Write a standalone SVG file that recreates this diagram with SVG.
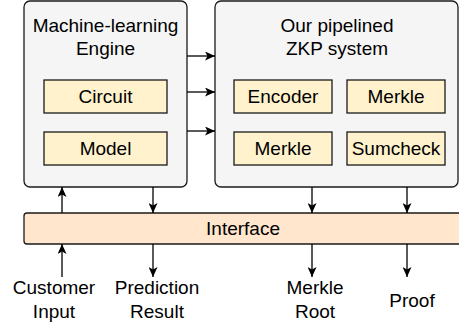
<svg xmlns="http://www.w3.org/2000/svg" width="459" height="327" viewBox="0 0 459 327">
<style>
text{font-family:"Liberation Sans",Arial,Helvetica,sans-serif;font-size:19px;fill:#000;text-anchor:middle}
.outer{fill:#f5f5f5;stroke:#1a1a1a;stroke-width:1.3}
.inner{fill:#fff2cc;stroke:#1a1a1a;stroke-width:1.3}
.iface{fill:#ffe6cc;stroke:#1a1a1a;stroke-width:1.3}
.c{stroke:#000;stroke-width:1.3;fill:none;marker-end:url(#ah)}
</style>
<defs>
<marker id="ah" viewBox="0 0 10 9" refX="10" refY="4.5" markerWidth="10" markerHeight="9" markerUnits="userSpaceOnUse" orient="auto">
<path d="M0,0 L10,4.5 L0,9 L2.5,4.5 Z" fill="#000"/>
</marker>
</defs>
<g id="ml-engine">
<rect class="outer" x="24" y="1" width="163" height="186" rx="6"/>
<text x="105.5" y="32">Machine-learning</text>
<text x="105.5" y="55">Engine</text>
</g>
<g id="circuit">
<rect class="inner" x="44" y="80" width="123" height="33"/>
<text x="105.5" y="103">Circuit</text>
</g>
<g id="model">
<rect class="inner" x="44" y="132" width="123" height="33"/>
<text x="105.5" y="155">Model</text>
</g>
<g id="zkp">
<rect class="outer" x="215" y="1" width="243" height="186" rx="6"/>
<text x="337" y="32">Our pipelined</text>
<text x="337" y="55">ZKP system</text>
</g>
<g id="encoder">
<rect class="inner" x="234" y="80" width="98" height="33"/>
<text x="283" y="103">Encoder</text>
</g>
<g id="merkle1">
<rect class="inner" x="347" y="80" width="98" height="33"/>
<text x="396" y="103">Merkle</text>
</g>
<g id="merkle2">
<rect class="inner" x="234" y="132" width="98" height="33"/>
<text x="283" y="155">Merkle</text>
</g>
<g id="sumcheck">
<rect class="inner" x="347" y="132" width="98" height="33"/>
<text x="396" y="155">Sumcheck</text>
</g>
<g id="interface">
<rect class="iface" x="24" y="213" width="440" height="31" rx="3"/>
<text x="243" y="235">Interface</text>
</g>
<g id="labels">
<text x="54" y="294">Customer</text>
<text x="54" y="318">Input</text>
<text x="157" y="294">Prediction</text>
<text x="157" y="318">Result</text>
<text x="315" y="294">Merkle</text>
<text x="315" y="318">Root</text>
<text x="412" y="307">Proof</text>
</g>
<g id="connectors">
<line class="c" x1="187" y1="56" x2="215" y2="56"/>
<line class="c" x1="187" y1="92" x2="215" y2="92"/>
<line class="c" x1="187" y1="131" x2="215" y2="131"/>
<line class="c" x1="62" y1="213" x2="62" y2="187"/>
<line class="c" x1="153" y1="187" x2="153" y2="213"/>
<line class="c" x1="312" y1="187" x2="312" y2="213"/>
<line class="c" x1="407" y1="187" x2="407" y2="213"/>
<line class="c" x1="62" y1="277" x2="62" y2="244"/>
<line class="c" x1="153" y1="244" x2="153" y2="277"/>
<line class="c" x1="312" y1="244" x2="312" y2="277"/>
<line class="c" x1="407" y1="244" x2="407" y2="277"/>
</g>
</svg>
